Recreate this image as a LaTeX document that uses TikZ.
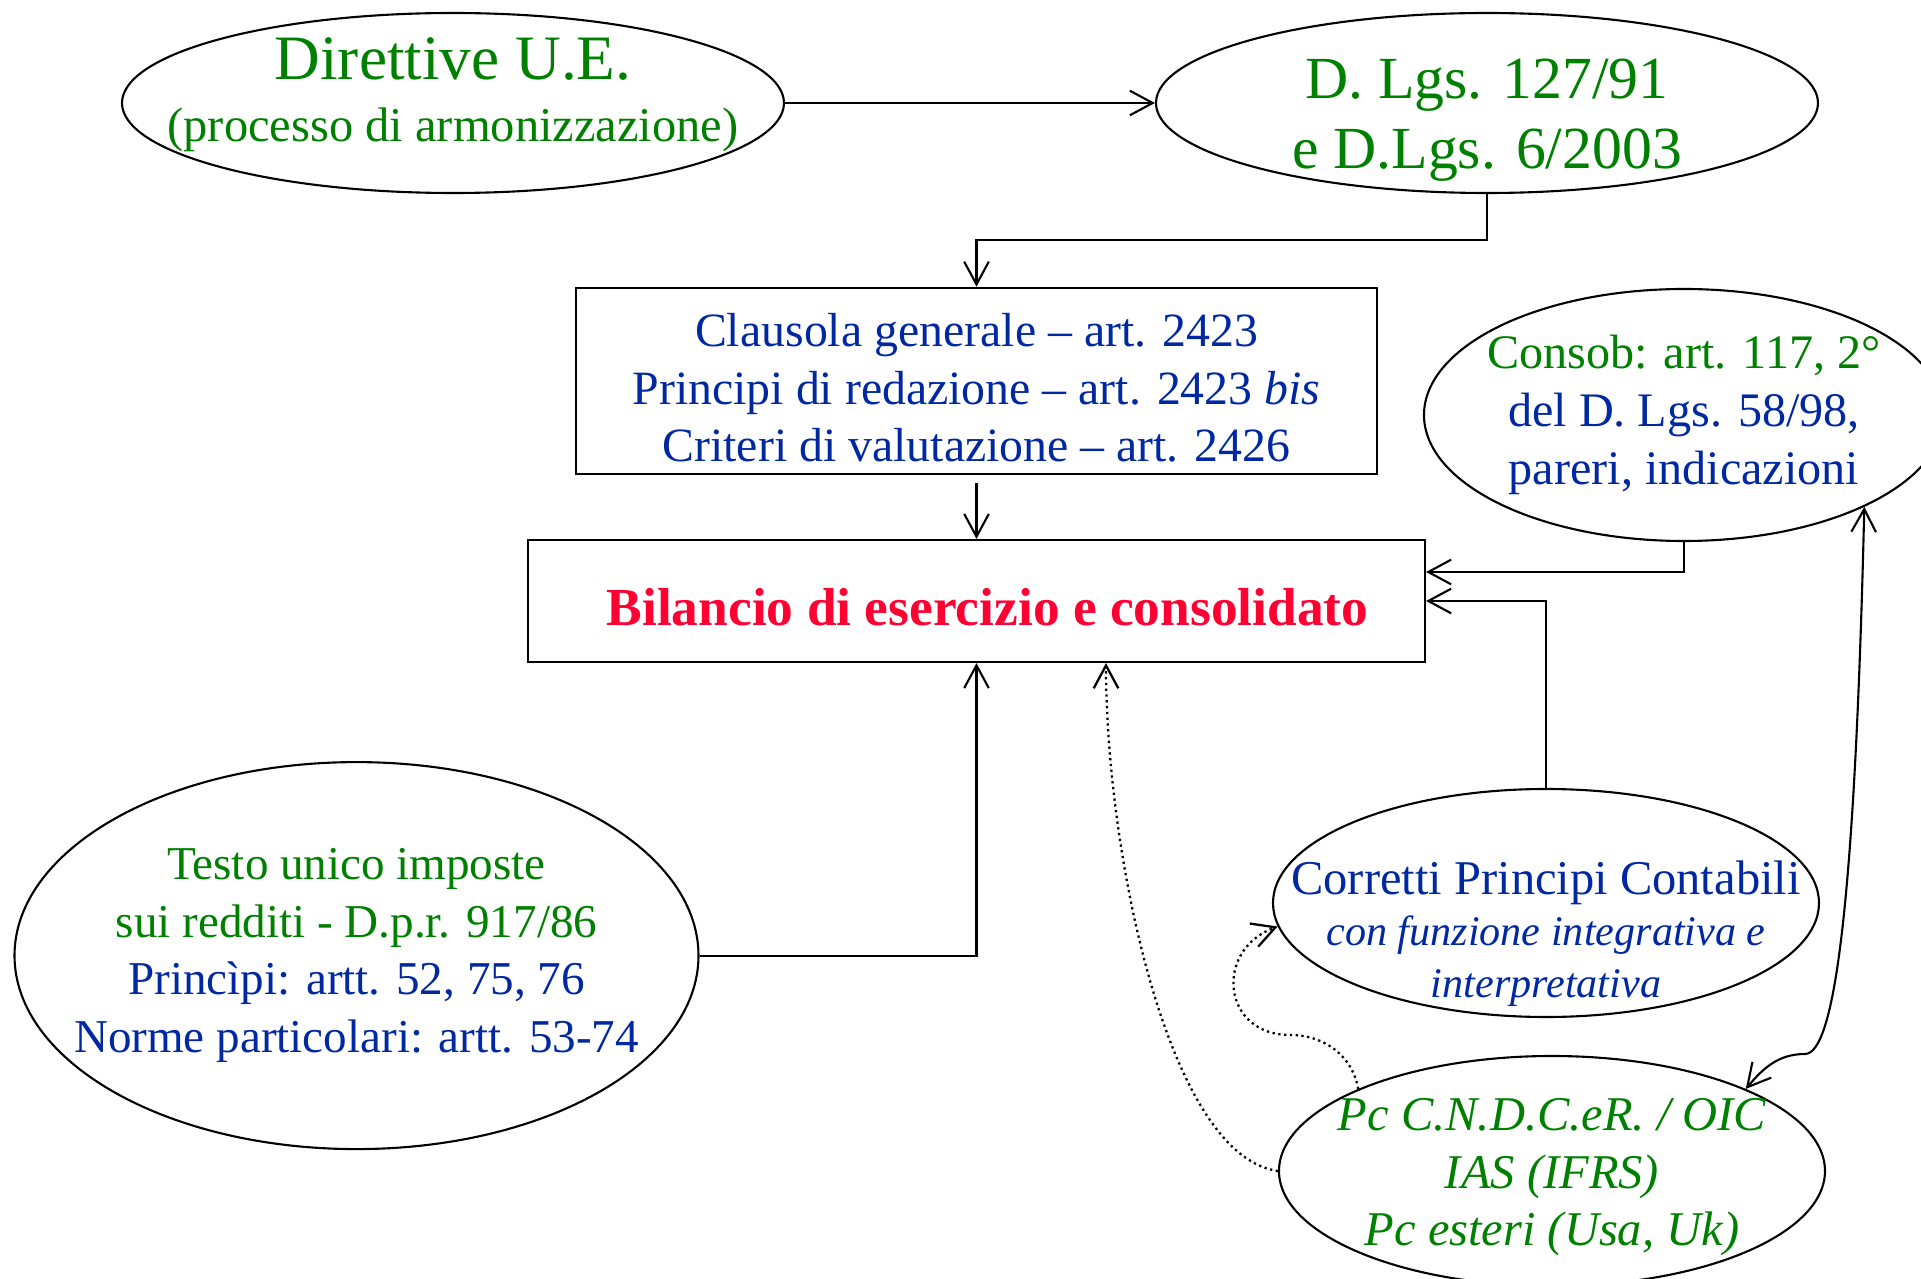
\documentclass[tikz,border=0pt]{standalone}
\usepackage{fontspec}
\setmainfont{Liberation Serif}
\usetikzlibrary{shapes.geometric,arrows.meta}

\definecolor{normgreen}{RGB}{0,128,0}
\definecolor{normblue}{RGB}{0,40,160}
\definecolor{bilred}{RGB}{255,0,51}

\begin{document}
\begin{tikzpicture}[
  oval/.style={ellipse, draw, inner sep=-2cm, align=center},
  block/.style={rectangle, draw, align=center},
  line width=0.6pt,
  >={Straight Barb[length=6.5pt,width=7pt]},
  ->,
]
  \useasboundingbox (0,0) rectangle (19.21,-12.79);

  \node[oval, minimum width=6.62cm, minimum height=1.8cm, text=normgreen,
    font=\fontsize{18}{17.6}\selectfont] (dir) at (4.53,-1.03)
    {Direttive U.E.\\
     {\fontsize{13.8}{16}\selectfont(processo di armonizzazione)\rule[-7.8pt]{0pt}{7.8pt}}};
  \node[oval, minimum width=6.62cm, minimum height=1.8cm, text=normgreen,
    font=\fontsize{17}{19.9}\selectfont] (dlgs) at (14.87,-1.03)
    {\rule{0pt}{21.2pt}D. Lgs. 127/91\\ e D.Lgs. 6/2003};

  \node[block, minimum width=8.01cm, minimum height=1.84cm, text=normblue,
    font=\fontsize{13.6}{16.4}\selectfont] (claus) at (9.765,-3.81)
    {\rule{0pt}{13.4pt}Clausola generale -- art. 2423\\
     Principi di redazione -- art. 2423 \textit{bis}\\
     Criteri di valutazione -- art. 2426};
  \node[block, minimum width=8.97cm, minimum height=1.22cm, text=bilred,
    font=\bfseries\fontsize{15.2}{18}\selectfont] (bil) at (9.765,-6.01)
    {\hspace*{0.22cm}\rule{0pt}{14pt}Bilancio di esercizio e consolidato};

  \node[oval, minimum width=5.2cm, minimum height=2.52cm, text=normblue,
    font=\fontsize{13.7}{16.4}\selectfont] (consob) at (16.84,-4.15)
    {\textcolor{normgreen}{Consob: art. 117, 2°}\\ del D. Lgs. 58/98,\\ pareri, indicazioni};

  \node[oval, minimum width=6.84cm, minimum height=3.87cm, text=normblue,
    font=\fontsize{13.4}{16.4}\selectfont] (testo) at (3.565,-9.556)
    {\textcolor{normgreen}{Testo unico imposte}\\
     \textcolor{normgreen}{sui redditi - D.p.r. 917/86}\\
     Princìpi: artt. 52, 75, 76\\
     Norme particolari: artt. 53-74};

  \node[oval, minimum width=5.46cm, minimum height=2.28cm, text=normblue,
    font=\fontsize{13.8}{14.7}\selectfont] (corr) at (15.46,-9.03)
    {\rule{0pt}{27pt}Corretti Principi Contabili\\
     {\itshape\fontsize{12}{14}\selectfont con funzione integrativa e}\\
     {\itshape\fontsize{12}{14}\selectfont interpretativa}};
  \node[oval, minimum width=5.46cm, minimum height=2.3cm, text=normgreen,
    font=\itshape\fontsize{13.8}{16.4}\selectfont] (pc) at (15.52,-11.71)
    {\rule{0pt}{12.7pt}Pc C.N.D.C.eR. / OIC\\ IAS (IFRS)\\ Pc esteri (Usa, Uk)};

  \coordinate (loop) at (12.9,-10.35);
  \coordinate (bend) at (18.05,-10.54);

  \draw (dir) -- (dlgs);
  \draw (dlgs.south) -- ++(0,-0.46) -| (claus.north);
  \draw[shorten <=0.08cm] (claus.south) -- (bil.north);
  \draw (consob.south) |- ([yshift=0.29cm]bil.east);
  \draw (corr.north) |- (bil.east);
  \draw (testo.east) -| (bil.south);

  \draw[densely dotted, line width=0.65pt] (pc.west)
    .. controls +(-1.1,0.15) and +(0,-1.9) .. ([xshift=1.295cm]bil.south);
  \draw[densely dotted, line width=0.65pt] (pc.north west) to[out=100,in=0] (loop)
    to[out=180,in=200,looseness=1.6] (corr.185);
  \draw[<->] (consob.333) .. controls (18.55,-9.0) and (18.35,-10.54) .. (bend)
    to[out=180,in=50] (pc.north east);
\end{tikzpicture}
\end{document}
